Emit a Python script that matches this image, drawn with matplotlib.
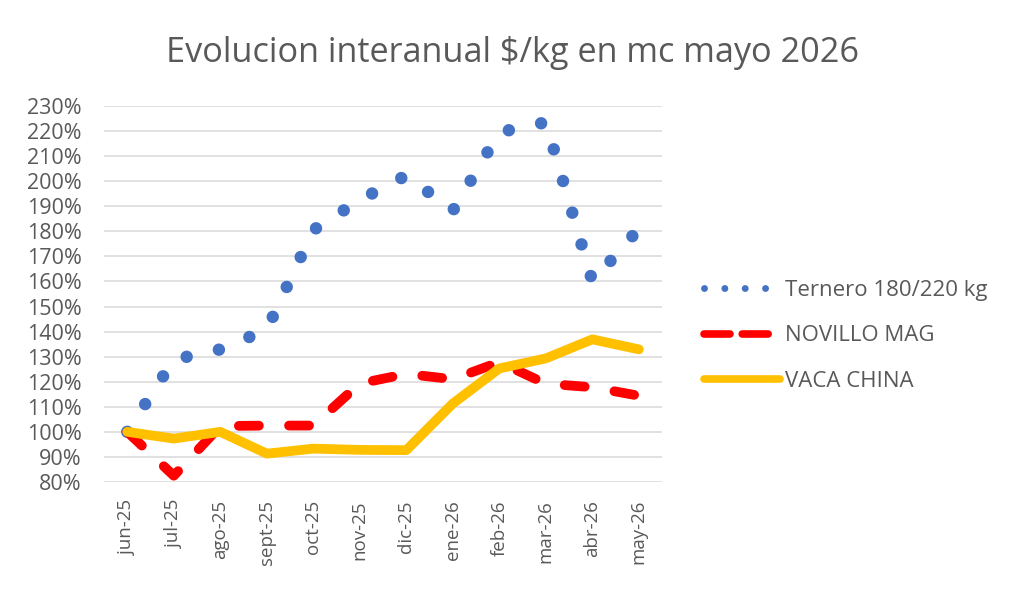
import matplotlib
matplotlib.use('Agg')
import matplotlib.pyplot as plt
from matplotlib.lines import Line2D
from matplotlib.ticker import FuncFormatter, MultipleLocator

# Datos (valores mensuales en %)
meses = ['jun-25', 'jul-25', 'ago-25', 'sept-25', 'oct-25', 'nov-25',
         'dic-25', 'ene-26', 'feb-26', 'mar-26', 'abr-26', 'may-26']
ternero = [100, 128.8, 132.9, 140.8, 180.5, 192.5, 202.3, 188.2, 219.5, 223.5, 160, 181]
novillo = [100, 82.5, 102.3, 102.5, 102.5, 119.3, 123.1, 121, 127.8, 119.2, 117.8, 114.4]
vaca = [100, 97.3, 100, 91.3, 93.3, 92.8, 92.7, 111.3, 125.3, 129.3, 136.9, 132.9]

series_labels = ['Ternero 180/220 kg', 'NOVILLO MAG', 'VACA CHINA']

gris = '#595959'
azul = '#4472C4'
rojo = '#FF0000'
amarillo = '#FFC000'

plt.rcParams['font.family'] = ['Open Sans', 'DejaVu Sans']

fig = plt.figure(figsize=(10.24, 5.94), dpi=100)
ax = fig.add_axes([0.1016, 0.1886, 0.545, 0.633])

x = list(range(len(meses)))

# Ternero: linea de puntos redondos
ax.plot(x, ternero, color=azul, lw=9.0, linestyle=(0, (0.001, 2.64)),
        dash_capstyle='round', clip_on=False, zorder=3)
# Novillo: linea discontinua
ax.plot(x, novillo, color=rojo, lw=7.0, linestyle=(0, (2.06, 3.1)),
        dash_capstyle='round', solid_joinstyle='round', clip_on=False, zorder=4)
# Vaca: linea continua
ax.plot(x, vaca, color=amarillo, lw=7.0, solid_capstyle='round',
        solid_joinstyle='round', clip_on=False, zorder=5)

ax.set_xlim(-0.5, len(meses) - 0.5)
ax.set_ylim(80, 230)
ax.yaxis.set_major_locator(MultipleLocator(10))
ax.yaxis.set_major_formatter(FuncFormatter(lambda v, p: f'{v:.0f}%'))
ax.set_xticks(x)
ax.set_xticklabels(meses, rotation=90)

ax.grid(axis='y', color='#D9D9D9', lw=1.1)
ax.set_axisbelow(True)
for s in ax.spines.values():
    s.set_visible(False)
ax.tick_params(axis='y', length=0, pad=16, labelsize=15.5, labelcolor=gris)
ax.tick_params(axis='x', length=0, pad=13, labelsize=13.5, labelcolor=gris)

fig.suptitle('Evolucion interanual $/kg en mc mayo 2026', x=0.5, y=0.94,
             fontsize=24.7, color=gris)

# Leyenda con simbolos propios
handles = [
    Line2D([0], [0], color=azul, lw=5, linestyle=(0, (0.001, 2.93)), dash_capstyle='round'),
    Line2D([0], [0], color=rojo, lw=5.5, linestyle=(0, (3.4, 1.6)), dash_capstyle='round'),
    Line2D([0], [0], color=amarillo, lw=5.5, solid_capstyle='round'),
]
fig.legend(handles, series_labels, loc='upper left', bbox_to_anchor=(0.668, 0.562),
           frameon=False, fontsize=16, labelcolor=gris, handlelength=3.4,
           handletextpad=0.25, labelspacing=1.09)

fig.savefig('out.png', dpi=100)
